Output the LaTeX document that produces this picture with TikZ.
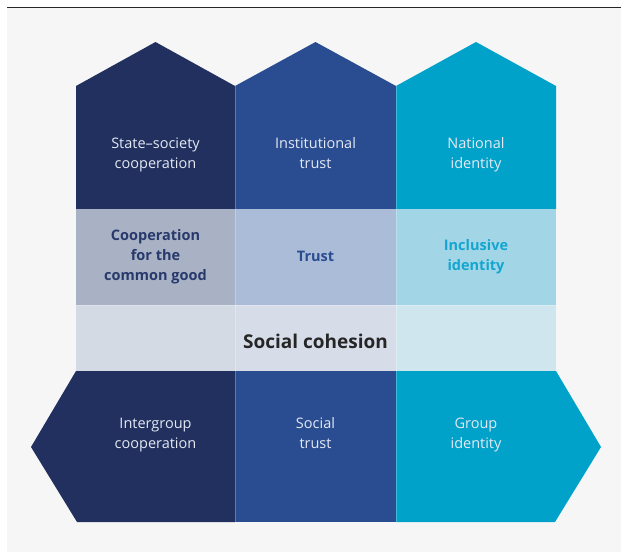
\documentclass[tikz,border=0pt]{standalone}
\usepackage{fontspec}
\setmainfont{Open Sans}
\definecolor{navy}{HTML}{21305F}
\definecolor{midblue}{HTML}{2A4D91}
\definecolor{cyanb}{HTML}{00A2C9}
\definecolor{navyL}{HTML}{A9B1C4}
\definecolor{midL}{HTML}{ABBCD9}
\definecolor{cyanL}{HTML}{A2D6E6}
\definecolor{navyLL}{HTML}{D3DAE4}
\definecolor{midLL}{HTML}{D6DDE9}
\definecolor{cyanLL}{HTML}{D0E6EE}
\definecolor{bggray}{HTML}{F6F6F6}
\definecolor{txtnavy}{HTML}{28396B}
\definecolor{txtmid}{HTML}{2A4D91}
\definecolor{txtcyan}{HTML}{14A6D0}
\definecolor{lighttext}{HTML}{E4E9F3}
\begin{document}
\begin{tikzpicture}[x=1pt,y=-1pt,
  lbl/.style={align=center,text=lighttext,font=\fontsize{14.5}{20}\selectfont,inner sep=0pt},
  midlbl/.style={align=center,font=\fontsize{14.5}{20}\selectfont\bfseries,inner sep=0pt},
  sep/.style={draw=white,draw opacity=0.25,line width=0.6pt}]
\useasboundingbox (0,0) rectangle (621,552);
\fill[white] (0,0) rectangle (621,552);
\fill[bggray] (7,8) rectangle (621,552);
\draw[line width=1.5pt,black!85] (7,7.5) -- (621,7.5);
% top pentagons
\fill[navy] (76,209) -- (76,86) -- (155.5,42) -- (235,86) -- (235,209) -- cycle;
\fill[midblue] (235,209) -- (235,86) -- (315.5,42) -- (396,86) -- (396,209) -- cycle;
\fill[cyanb] (396,209) -- (396,86) -- (476,42) -- (556,86) -- (556,209) -- cycle;
% second row
\fill[navyL] (76,209) rectangle (235,305);
\fill[midL] (235,209) rectangle (396,305);
\fill[cyanL] (396,209) rectangle (556,305);
% third row
\fill[navyLL] (76,305) rectangle (235,371);
\fill[midLL] (235,305) rectangle (396,371);
\fill[cyanLL] (396,305) rectangle (556,371);
% bottom
\fill[navy] (235,371) -- (76,371) -- (31,447) -- (77,522) -- (235,522) -- cycle;
\fill[midblue] (235,371) rectangle (396,522);
\fill[cyanb] (396,371) -- (556,371) -- (601,447) -- (555,522) -- (396,522) -- cycle;
% separators
\draw[sep] (235,86) -- (235,522);
\draw[sep] (396,86) -- (396,522);
\draw[sep] (76,305) -- (556,305);
% labels
\node[lbl] (ss) at (155.5,155) {State–society\\cooperation};
\node[lbl] (it) at (315.5,155) {Institutional\\trust\vphantom{g}};
\node[lbl] (ni) at (476,155) {National\\identity};
\node[midlbl,text=txtnavy] (cg) at (155.5,256.5) {Cooperation\\for the\\common good};
\node[midlbl,text=txtmid] (tr) at (315.5,256.5) {Trust};
\node[midlbl,text=txtcyan] (ii) at (476,256.5) {Inclusive\\identity};
\node[inner sep=0pt,font=\fontsize{19}{22}\selectfont\bfseries,text=black!85] (sc) at (315.5,341) {Social cohesion};
\node[lbl] (ic) at (155.5,435) {Intergroup\\cooperation};
\node[lbl] (st) at (315.5,435) {Social\\trust\vphantom{g}};
\node[lbl] (gi) at (476,435) {Group\\identity};
\end{tikzpicture}
\end{document}
